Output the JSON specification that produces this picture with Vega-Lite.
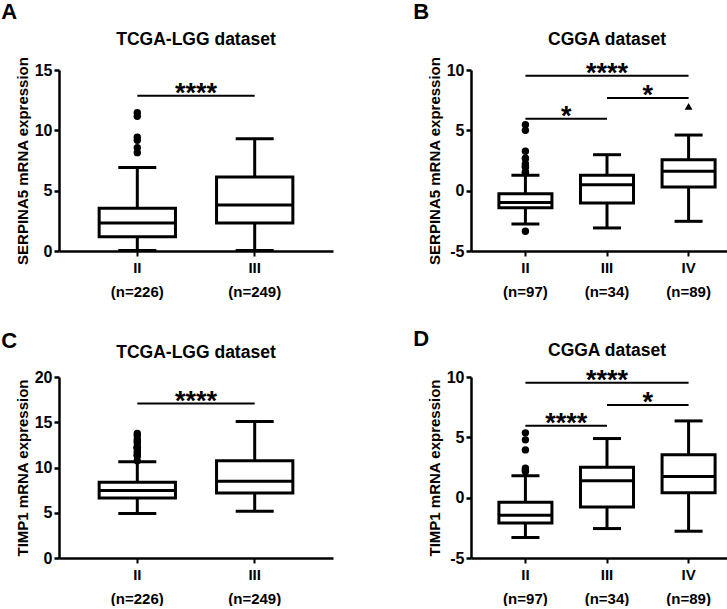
{
  "$schema": "https://vega.github.io/schema/vega-lite/v6.json",
  "padding": {"left": 1, "top": 0, "right": 2, "bottom": 0},
  "background": "white",
  "config": {
    "font": "Liberation Sans",
    "view": {"stroke": null},
    "axis": {"domainColor": "black", "tickColor": "black", "labelColor": "black", "titleColor": "black", "labelFont": "Liberation Sans", "titleFont": "Liberation Sans", "labelFontWeight": "bold", "titleFontWeight": "bold", "grid": false},
    "axisY": {"domainWidth": 2.5, "tickWidth": 2.5, "tickSize": 5, "labelFontSize": 16, "labelPadding": 2, "titleFontSize": 15, "titlePadding": 4},
    "axisX": {"domainWidth": 2.5, "tickWidth": 2, "tickSize": 5, "labelFontSize": 15, "labelPadding": 4, "labelLineHeight": 24, "labelAngle": 0, "title": null},
    "title": {"font": "Liberation Sans", "fontWeight": "bold", "color": "black"},
    "tick": {"opacity": 1}
  },
  "spacing": 28,
  "vconcat": [
    {
      "spacing": 80,
      "hconcat": [
        {
          "title": {"text": "A", "anchor": "start", "fontSize": 22, "dx": -14, "offset": 7},
          "vconcat": [{
            "width": 274, "height": 181,
            "title": {"text": "TCGA-LGG dataset", "fontSize": 17.5, "offset": 8, "anchor": "middle"},
            "data": {"values": [
              {"g": "II (n=226)", "lo": 0.05, "q1": 1.19, "med": 2.32, "q3": 3.54, "hi": 6.93},
              {"g": "III (n=249)", "lo": 0.05, "q1": 2.32, "med": 3.81, "q3": 6.13, "hi": 9.31}
            ]},
            "layer": [
              {"mark": {"type": "rule", "strokeWidth": 3, "color": "black"},
               "encoding": {
                 "x": {"field": "g", "type": "nominal", "scale": {"domain": ["II (n=226)", "III (n=249)"], "paddingInner": 0, "paddingOuter": 0.167}, "axis": {"labelExpr": "split(datum.label, ' ')"}},
                 "y": {"field": "lo", "type": "quantitative", "scale": {"domain": [0, 15], "nice": false}, "axis": {"values": [0, 5, 10, 15], "title": "SERPINA5 mRNA expression", "labelExpr": "'' + datum.value"}},
                 "y2": {"field": "hi"}}},
              {"mark": {"type": "bar", "fill": "white", "stroke": "black", "strokeWidth": 3, "width": {"band": 0.65}},
               "encoding": {"x": {"field": "g", "type": "nominal"}, "y": {"field": "q1", "type": "quantitative"}, "y2": {"field": "q3"}}},
              {"mark": {"type": "tick", "color": "black", "opacity": 1, "thickness": 3, "size": 76},
               "encoding": {"x": {"field": "g", "type": "nominal"}, "y": {"field": "med", "type": "quantitative"}}},
              {"mark": {"type": "tick", "color": "black", "opacity": 1, "thickness": 3, "size": 38},
               "encoding": {"x": {"field": "g", "type": "nominal"}, "y": {"field": "lo", "type": "quantitative"}}},
              {"mark": {"type": "tick", "color": "black", "opacity": 1, "thickness": 3, "size": 38},
               "encoding": {"x": {"field": "g", "type": "nominal"}, "y": {"field": "hi", "type": "quantitative"}}},
              {"data": {"values": [
                {"g": "II (n=226)", "v": 11.16}, {"g": "II (n=226)", "v": 11.46}, {"g": "II (n=226)", "v": 9.42},
                {"g": "II (n=226)", "v": 9.17}, {"g": "II (n=226)", "v": 8.15}, {"g": "II (n=226)", "v": 8.56}
              ]},
               "mark": {"type": "point", "shape": "circle", "filled": true, "color": "black", "size": 55, "opacity": 1},
               "encoding": {"x": {"field": "g", "type": "nominal"}, "y": {"field": "v", "type": "quantitative"}}},
              {"data": {"values": [{"from": "II (n=226)", "to": "III (n=249)", "y": 12.87, "label": "****", "at": "III (n=249)", "kind": "adj"}]},
               "layer": [
                 {"mark": {"type": "rule", "strokeWidth": 2, "color": "black"},
                  "encoding": {"x": {"field": "from", "type": "nominal"}, "x2": {"field": "to"}, "y": {"field": "y", "type": "quantitative"}}},
                 {"mark": {"type": "text", "fontSize": 27, "fontWeight": "bold", "color": "black", "baseline": "alphabetic", "dy": 6.5},
                  "encoding": {"x": {"field": "at", "type": "nominal", "bandPosition": 0}, "y": {"field": "y", "type": "quantitative"}, "text": {"field": "label"}}}
               ]}
            ]
          }]
        },
        {
          "title": {"text": "B", "anchor": "start", "fontSize": 22, "dx": -14, "offset": 7},
          "vconcat": [{
            "width": 272, "height": 181,
            "title": {"text": "CGGA dataset", "fontSize": 17.5, "offset": 8, "anchor": "middle"},
            "data": {"values": [
              {"g": "II (n=97)", "lo": -2.76, "q1": -1.41, "med": -0.98, "q3": -0.25, "hi": 1.27},
              {"g": "III (n=34)", "lo": -3.09, "q1": -1.02, "med": 0.5, "q3": 1.27, "hi": 2.98},
              {"g": "IV (n=89)", "lo": -2.54, "q1": 0.3, "med": 1.6, "q3": 2.57, "hi": 4.61}
            ]},
            "layer": [
              {"mark": {"type": "rule", "strokeWidth": 3, "color": "black"},
               "encoding": {
                 "x": {"field": "g", "type": "nominal", "scale": {"domain": ["II (n=97)", "III (n=34)", "IV (n=89)"], "paddingInner": 0, "paddingOuter": 0.167}, "axis": {"labelExpr": "split(datum.label, ' ')"}},
                 "y": {"field": "lo", "type": "quantitative", "scale": {"domain": [-5, 10], "nice": false}, "axis": {"values": [-5, 0, 5, 10], "title": "SERPINA5 mRNA expression", "labelExpr": "'' + datum.value"}},
                 "y2": {"field": "hi"}}},
              {"mark": {"type": "bar", "fill": "white", "stroke": "black", "strokeWidth": 3, "width": {"band": 0.65}},
               "encoding": {"x": {"field": "g", "type": "nominal"}, "y": {"field": "q1", "type": "quantitative"}, "y2": {"field": "q3"}}},
              {"mark": {"type": "tick", "color": "black", "opacity": 1, "thickness": 3, "size": 53},
               "encoding": {"x": {"field": "g", "type": "nominal"}, "y": {"field": "med", "type": "quantitative"}}},
              {"mark": {"type": "tick", "color": "black", "opacity": 1, "thickness": 3, "size": 28},
               "encoding": {"x": {"field": "g", "type": "nominal"}, "y": {"field": "lo", "type": "quantitative"}}},
              {"mark": {"type": "tick", "color": "black", "opacity": 1, "thickness": 3, "size": 28},
               "encoding": {"x": {"field": "g", "type": "nominal"}, "y": {"field": "hi", "type": "quantitative"}}},
              {"data": {"values": [
                {"g": "II (n=97)", "v": 5.47}, {"g": "II (n=97)", "v": 5.0}, {"g": "II (n=97)", "v": 2.7},
                {"g": "II (n=97)", "v": 3.26}, {"g": "II (n=97)", "v": 2.02}, {"g": "II (n=97)", "v": 2.65},
                {"g": "II (n=97)", "v": 2.21}, {"g": "II (n=97)", "v": 1.55}, {"g": "II (n=97)", "v": 1.46},
                {"g": "II (n=97)", "v": 1.93}, {"g": "II (n=97)", "v": -3.37}
              ]},
               "mark": {"type": "point", "shape": "circle", "filled": true, "color": "black", "size": 55, "opacity": 1},
               "encoding": {"x": {"field": "g", "type": "nominal"}, "y": {"field": "v", "type": "quantitative"}}},
              {"data": {"values": [{"g": "IV (n=89)", "v": 6.99}]},
               "mark": {"type": "point", "shape": "triangle-up", "filled": true, "color": "black", "size": 60, "opacity": 1},
               "encoding": {"x": {"field": "g", "type": "nominal"}, "y": {"field": "v", "type": "quantitative"}}},
              {"data": {"values": [
                {"from": "II (n=97)", "to": "IV (n=89)", "y": 9.53, "label": "****", "at": "III (n=34)", "kind": "span"},
                {"from": "III (n=34)", "to": "IV (n=89)", "y": 7.68, "label": "*", "at": "IV (n=89)", "kind": "adj"},
                {"from": "II (n=97)", "to": "III (n=34)", "y": 5.97, "label": "*", "at": "III (n=34)", "kind": "adj"}
              ]},
               "layer": [
                 {"mark": {"type": "rule", "strokeWidth": 2, "color": "black"},
                  "encoding": {"x": {"field": "from", "type": "nominal"}, "x2": {"field": "to"}, "y": {"field": "y", "type": "quantitative"}}},
                 {"transform": [{"filter": "datum.kind == 'adj'"}],
                  "mark": {"type": "text", "fontSize": 27, "fontWeight": "bold", "color": "black", "baseline": "alphabetic", "dy": 6.5},
                  "encoding": {"x": {"field": "at", "type": "nominal", "bandPosition": 0}, "y": {"field": "y", "type": "quantitative"}, "text": {"field": "label"}}},
                 {"transform": [{"filter": "datum.kind == 'span'"}],
                  "mark": {"type": "text", "fontSize": 27, "fontWeight": "bold", "color": "black", "baseline": "alphabetic", "dy": 6.5},
                  "encoding": {"x": {"field": "at", "type": "nominal", "bandPosition": 0.5}, "y": {"field": "y", "type": "quantitative"}, "text": {"field": "label"}}}
               ]}
            ]
          }]
        }
      ]
    },
    {
      "spacing": 80,
      "hconcat": [
        {
          "title": {"text": "C", "anchor": "start", "fontSize": 22, "dx": -14, "dy": 16, "offset": 7},
          "vconcat": [{
            "width": 274, "height": 181,
            "title": {"text": "TCGA-LGG dataset", "fontSize": 17.5, "offset": 8, "anchor": "middle"},
            "data": {"values": [
              {"g": "II (n=226)", "lo": 4.92, "q1": 6.64, "med": 7.45, "q3": 8.37, "hi": 10.64},
              {"g": "III (n=249)", "lo": 5.17, "q1": 7.19, "med": 8.48, "q3": 10.75, "hi": 15.08}
            ]},
            "layer": [
              {"mark": {"type": "rule", "strokeWidth": 3, "color": "black"},
               "encoding": {
                 "x": {"field": "g", "type": "nominal", "scale": {"domain": ["II (n=226)", "III (n=249)"], "paddingInner": 0, "paddingOuter": 0.167}, "axis": {"labelExpr": "split(datum.label, ' ')"}},
                 "y": {"field": "lo", "type": "quantitative", "scale": {"domain": [0, 20], "nice": false}, "axis": {"values": [0, 5, 10, 15, 20], "title": "TIMP1 mRNA expression", "labelExpr": "'' + datum.value"}},
                 "y2": {"field": "hi"}}},
              {"mark": {"type": "bar", "fill": "white", "stroke": "black", "strokeWidth": 3, "width": {"band": 0.65}},
               "encoding": {"x": {"field": "g", "type": "nominal"}, "y": {"field": "q1", "type": "quantitative"}, "y2": {"field": "q3"}}},
              {"mark": {"type": "tick", "color": "black", "opacity": 1, "thickness": 3, "size": 76},
               "encoding": {"x": {"field": "g", "type": "nominal"}, "y": {"field": "med", "type": "quantitative"}}},
              {"mark": {"type": "tick", "color": "black", "opacity": 1, "thickness": 3, "size": 38},
               "encoding": {"x": {"field": "g", "type": "nominal"}, "y": {"field": "lo", "type": "quantitative"}}},
              {"mark": {"type": "tick", "color": "black", "opacity": 1, "thickness": 3, "size": 38},
               "encoding": {"x": {"field": "g", "type": "nominal"}, "y": {"field": "hi", "type": "quantitative"}}},
              {"data": {"values": [
                {"g": "II (n=226)", "v": 12.29}, {"g": "II (n=226)", "v": 11.78}, {"g": "II (n=226)", "v": 12.22},
                {"g": "II (n=226)", "v": 13.5}, {"g": "II (n=226)", "v": 12.88}, {"g": "II (n=226)", "v": 12.11},
                {"g": "II (n=226)", "v": 13.1}, {"g": "II (n=226)", "v": 13.76}, {"g": "II (n=226)", "v": 11.3},
                {"g": "II (n=226)", "v": 10.75}, {"g": "II (n=226)", "v": 11.32}, {"g": "II (n=226)", "v": 12.15},
                {"g": "II (n=226)", "v": 11.49}, {"g": "II (n=226)", "v": 12.7}
              ]},
               "mark": {"type": "point", "shape": "circle", "filled": true, "color": "black", "size": 55, "opacity": 1},
               "encoding": {"x": {"field": "g", "type": "nominal"}, "y": {"field": "v", "type": "quantitative"}}},
              {"data": {"values": [{"from": "II (n=226)", "to": "III (n=249)", "y": 17.06, "label": "****", "at": "III (n=249)", "kind": "adj"}]},
               "layer": [
                 {"mark": {"type": "rule", "strokeWidth": 2, "color": "black"},
                  "encoding": {"x": {"field": "from", "type": "nominal"}, "x2": {"field": "to"}, "y": {"field": "y", "type": "quantitative"}}},
                 {"mark": {"type": "text", "fontSize": 27, "fontWeight": "bold", "color": "black", "baseline": "alphabetic", "dy": 6.5},
                  "encoding": {"x": {"field": "at", "type": "nominal", "bandPosition": 0}, "y": {"field": "y", "type": "quantitative"}, "text": {"field": "label"}}}
               ]}
            ]
          }]
        },
        {
          "title": {"text": "D", "anchor": "start", "fontSize": 22, "dx": -14, "dy": 16, "offset": 7},
          "vconcat": [{
            "width": 272, "height": 181,
            "title": {"text": "CGGA dataset", "fontSize": 17.5, "offset": 8, "anchor": "middle"},
            "data": {"values": [
              {"g": "II (n=97)", "lo": -3.3, "q1": -2.09, "med": -1.46, "q3": -0.39, "hi": 1.82},
              {"g": "III (n=34)", "lo": -2.56, "q1": -0.77, "med": 1.4, "q3": 2.53, "hi": 4.9},
              {"g": "IV (n=89)", "lo": -2.78, "q1": 0.41, "med": 1.76, "q3": 3.55, "hi": 6.36}
            ]},
            "layer": [
              {"mark": {"type": "rule", "strokeWidth": 3, "color": "black"},
               "encoding": {
                 "x": {"field": "g", "type": "nominal", "scale": {"domain": ["II (n=97)", "III (n=34)", "IV (n=89)"], "paddingInner": 0, "paddingOuter": 0.167}, "axis": {"labelExpr": "split(datum.label, ' ')"}},
                 "y": {"field": "lo", "type": "quantitative", "scale": {"domain": [-5, 10], "nice": false}, "axis": {"values": [-5, 0, 5, 10], "title": "TIMP1 mRNA expression", "labelExpr": "'' + datum.value"}},
                 "y2": {"field": "hi"}}},
              {"mark": {"type": "bar", "fill": "white", "stroke": "black", "strokeWidth": 3, "width": {"band": 0.65}},
               "encoding": {"x": {"field": "g", "type": "nominal"}, "y": {"field": "q1", "type": "quantitative"}, "y2": {"field": "q3"}}},
              {"mark": {"type": "tick", "color": "black", "opacity": 1, "thickness": 3, "size": 53},
               "encoding": {"x": {"field": "g", "type": "nominal"}, "y": {"field": "med", "type": "quantitative"}}},
              {"mark": {"type": "tick", "color": "black", "opacity": 1, "thickness": 3, "size": 28},
               "encoding": {"x": {"field": "g", "type": "nominal"}, "y": {"field": "lo", "type": "quantitative"}}},
              {"mark": {"type": "tick", "color": "black", "opacity": 1, "thickness": 3, "size": 28},
               "encoding": {"x": {"field": "g", "type": "nominal"}, "y": {"field": "hi", "type": "quantitative"}}},
              {"data": {"values": [
                {"g": "II (n=97)", "v": 5.37}, {"g": "II (n=97)", "v": 4.79}, {"g": "II (n=97)", "v": 3.96},
                {"g": "II (n=97)", "v": 2.45}, {"g": "II (n=97)", "v": 2.17}, {"g": "II (n=97)", "v": 2.31}
              ]},
               "mark": {"type": "point", "shape": "circle", "filled": true, "color": "black", "size": 55, "opacity": 1},
               "encoding": {"x": {"field": "g", "type": "nominal"}, "y": {"field": "v", "type": "quantitative"}}},
              {"data": {"values": [
                {"from": "II (n=97)", "to": "IV (n=89)", "y": 9.52, "label": "****", "at": "III (n=34)", "kind": "span"},
                {"from": "III (n=34)", "to": "IV (n=89)", "y": 7.68, "label": "*", "at": "IV (n=89)", "kind": "adj"},
                {"from": "II (n=97)", "to": "III (n=34)", "y": 5.97, "label": "****", "at": "III (n=34)", "kind": "adj"}
              ]},
               "layer": [
                 {"mark": {"type": "rule", "strokeWidth": 2, "color": "black"},
                  "encoding": {"x": {"field": "from", "type": "nominal"}, "x2": {"field": "to"}, "y": {"field": "y", "type": "quantitative"}}},
                 {"transform": [{"filter": "datum.kind == 'adj'"}],
                  "mark": {"type": "text", "fontSize": 27, "fontWeight": "bold", "color": "black", "baseline": "alphabetic", "dy": 6.5},
                  "encoding": {"x": {"field": "at", "type": "nominal", "bandPosition": 0}, "y": {"field": "y", "type": "quantitative"}, "text": {"field": "label"}}},
                 {"transform": [{"filter": "datum.kind == 'span'"}],
                  "mark": {"type": "text", "fontSize": 27, "fontWeight": "bold", "color": "black", "baseline": "alphabetic", "dy": 6.5},
                  "encoding": {"x": {"field": "at", "type": "nominal", "bandPosition": 0.5}, "y": {"field": "y", "type": "quantitative"}, "text": {"field": "label"}}}
               ]}
            ]
          }]
        }
      ]
    }
  ]
}
